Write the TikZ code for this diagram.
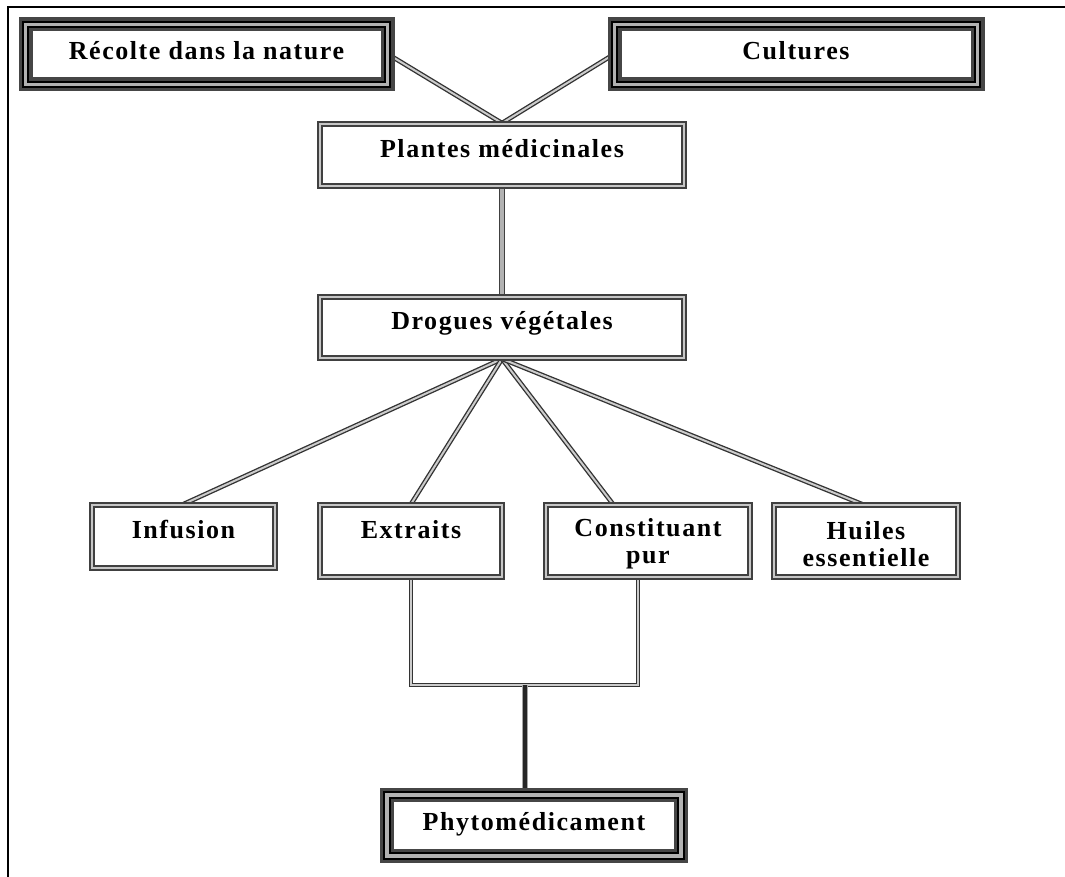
\documentclass[tikz,border=0pt]{standalone}
\usepackage{fontspec}
\setmainfont{Liberation Serif}[LetterSpace=6]
\usetikzlibrary{calc,backgrounds}
\tikzset{
  lbl/.style={font=\fontsize{19.5}{20.25}\selectfont\bfseries, inner sep=0pt, align=center, text=black},
  boxA/.style={lbl, rectangle, preaction={fill=white, draw=gray!55!black, line width=10.5pt},
    draw=black, line width=1.5pt, double=gray!60, double distance=2.5pt},
  boxB/.style={lbl, rectangle, fill=white, draw=gray!50!black, line width=1.3pt,
    double=gray!45, double distance=2pt},
  conn/.style={draw=black!80, line width=1pt, double=gray!40, double distance=1.5pt},
  connthick/.style={draw=black!75, line width=1.4pt, double=gray!60, double distance=2.4pt},
  conndark/.style={draw=gray!70, line width=1.3pt, double=black!85, double distance=2.6pt},
  frame/.style={draw=black, line width=2pt}
}
\begin{document}
\begin{tikzpicture}[x=0.75pt, y=-0.75pt]
\useasboundingbox (0,0) rectangle (1065,877);
% nodes
\node[boxA, minimum width=271.5pt, minimum height=45pt, text height=26.1pt, text depth=18.9pt] (rec) at (206.5,54.5) {Récolte dans la nature};
\node[boxA, minimum width=272.25pt, minimum height=45pt, text height=26.1pt, text depth=18.9pt] (cul) at (796,54.5) {Cultures};
\node[boxB, minimum width=273pt, minimum height=46.5pt, text height=25pt, text depth=21.5pt] (pla) at (502,155) {Plantes médicinales};
\node[boxB, minimum width=273pt, minimum height=45.75pt, text height=24.75pt, text depth=21pt] (dro) at (502,327.5) {Drogues végétales};
\node[boxB, minimum width=137.25pt, minimum height=47.25pt, text height=25pt, text depth=22.25pt] (inf) at (183.5,536.5) {Infusion};
\node[boxB, minimum width=136.5pt, minimum height=54pt, text height=24.75pt, text depth=29.25pt] (ext) at (411,541) {Extraits};
\node[boxB, minimum width=153pt, minimum height=54pt] (con) at (648,541) {\rule{0pt}{18pt}Constituant\\pur};
\node[boxB, minimum width=138pt, minimum height=54pt] (hui) at (866,541) {\rule{0pt}{18pt}Huiles\\essentielle};
\node[boxA, minimum width=220.5pt, minimum height=45.75pt, text height=26.25pt, text depth=19.5pt] (phy) at (534,825.5) {Phytomédicament};
\coordinate (j) at (525,685);
\begin{pgfonlayer}{background}
\fill[white] (0,0) rectangle (1065,877);
\draw[frame] (8,877) -- (8,7) -- (1065,7);
\draw[conn] (rec.east) -- (pla.north);
\draw[conn] (cul.west) -- (pla.north);
\draw[connthick] (pla.south) -- (dro.north);
\draw[conn] (dro.south) -- (inf.north);
\draw[conn] (dro.south) -- (ext.north);
\draw[conn] (dro.south) -- ($(con.north)+(-35,0)$);
\draw[conn] (dro.south) -- ($(hui.north)+(-4,0)$);
\draw[conn] (ext.south) |- (j) -| ($(con.south)+(-10,0)$);
\draw[conndark] (j) -- (j |- phy.north);
\end{pgfonlayer}
\end{tikzpicture}
\end{document}
